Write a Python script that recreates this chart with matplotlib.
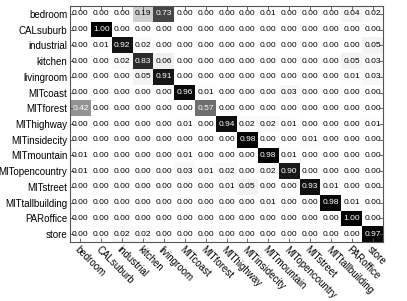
import numpy as np
import matplotlib
matplotlib.use('Agg')
import matplotlib.pyplot as plt

plt.rcParams['font.family'] = ['Liberation Sans', 'DejaVu Sans']

labels = ['bedroom', 'CALsuburb', 'industrial', 'kitchen', 'livingroom',
          'MITcoast', 'MITforest', 'MIThighway', 'MITinsidecity', 'MITmountain',
          'MITopencountry', 'MITstreet', 'MITtallbuilding', 'PARoffice', 'store']

conf = np.array([
    [0.00, 0.00, 0.00, 0.19, 0.73, 0.00, 0.00, 0.00, 0.00, 0.01, 0.00, 0.00, 0.00, 0.04, 0.02],
    [0.00, 1.00, 0.00, 0.00, 0.00, 0.00, 0.00, 0.00, 0.00, 0.00, 0.00, 0.00, 0.00, 0.00, 0.00],
    [0.00, 0.01, 0.92, 0.02, 0.00, 0.00, 0.00, 0.00, 0.00, 0.00, 0.00, 0.00, 0.00, 0.00, 0.05],
    [0.00, 0.00, 0.02, 0.83, 0.06, 0.00, 0.00, 0.00, 0.00, 0.00, 0.00, 0.00, 0.00, 0.05, 0.03],
    [0.00, 0.00, 0.00, 0.05, 0.91, 0.00, 0.00, 0.00, 0.00, 0.00, 0.00, 0.00, 0.00, 0.01, 0.03],
    [0.00, 0.00, 0.00, 0.00, 0.00, 0.96, 0.01, 0.00, 0.00, 0.00, 0.03, 0.00, 0.00, 0.00, 0.00],
    [0.42, 0.00, 0.00, 0.00, 0.00, 0.00, 0.57, 0.00, 0.00, 0.00, 0.00, 0.00, 0.00, 0.00, 0.00],
    [0.00, 0.00, 0.00, 0.00, 0.00, 0.01, 0.00, 0.94, 0.02, 0.02, 0.01, 0.00, 0.00, 0.00, 0.01],
    [0.00, 0.00, 0.00, 0.00, 0.00, 0.00, 0.00, 0.00, 0.98, 0.00, 0.00, 0.01, 0.00, 0.00, 0.00],
    [0.01, 0.00, 0.00, 0.00, 0.00, 0.01, 0.00, 0.00, 0.00, 0.98, 0.01, 0.00, 0.00, 0.00, 0.00],
    [0.01, 0.00, 0.00, 0.00, 0.00, 0.03, 0.01, 0.02, 0.00, 0.02, 0.90, 0.00, 0.00, 0.00, 0.00],
    [0.00, 0.00, 0.00, 0.00, 0.00, 0.00, 0.00, 0.01, 0.05, 0.00, 0.00, 0.93, 0.01, 0.00, 0.00],
    [0.00, 0.00, 0.00, 0.00, 0.00, 0.00, 0.00, 0.00, 0.00, 0.01, 0.00, 0.00, 0.98, 0.01, 0.00],
    [0.00, 0.00, 0.00, 0.00, 0.00, 0.00, 0.00, 0.00, 0.00, 0.00, 0.00, 0.00, 0.00, 1.00, 0.00],
    [0.00, 0.00, 0.02, 0.02, 0.00, 0.00, 0.00, 0.00, 0.00, 0.00, 0.00, 0.00, 0.00, 0.00, 0.97],
])

fig = plt.figure(figsize=(4.07, 3.01), dpi=100)
ax = fig.add_axes([70/407, 1 - 242/301, 313/407, 236/301])
ax.imshow(conf, cmap='gray_r', vmin=0, vmax=1, aspect='auto', interpolation='nearest')

n = len(labels)
for i in range(n):
    for j in range(n):
        v = conf[i, j]
        ax.text(j, i, f'{v:.2f}', ha='center', va='center', fontsize=6,
                color='white' if v > 0.35 else 'black')

ax.set_xticks(range(n))
ax.set_yticks(range(n))
ax.set_xticklabels(labels, rotation=-45, ha='left', va='top', rotation_mode='anchor', fontsize=7)
ax.set_yticklabels(labels, fontsize=7)
ax.tick_params(direction='in', top=True, right=True, length=3, width=0.6, pad=2, color='#555555')
for s in ax.spines.values():
    s.set_linewidth(0.8)
    s.set_color('#555555')

fig.savefig('out.png', dpi=100)
